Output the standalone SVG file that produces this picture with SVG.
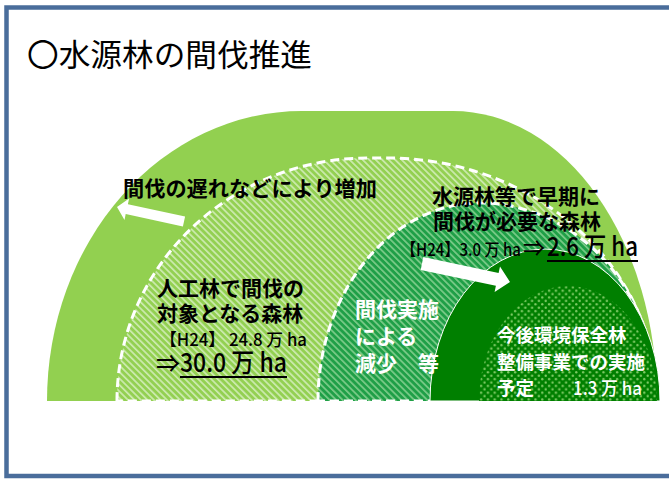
<svg xmlns="http://www.w3.org/2000/svg" width="669" height="480" viewBox="0 0 669 480">
<style>
.t{font-family:"Noto Sans CJK JP","Liberation Sans",sans-serif;font-weight:bold;}
.m{font-weight:500;}
.blk{fill:#000;}
.wht{fill:#fff;}
.dash{stroke:#fff;stroke-width:3;stroke-dasharray:9 5;}
.arrow{fill:#fff;}
.ul{stroke:#000;stroke-width:2;}
</style>
<defs>
<pattern id="hatchLight" patternUnits="userSpaceOnUse" width="4.6" height="4.6" patternTransform="rotate(-45)">
<rect width="4.6" height="4.6" fill="#93d052"/>
<rect x="0" y="0" width="1.7" height="4.6" fill="#cdeab0"/>
</pattern>
<pattern id="hatchMid" patternUnits="userSpaceOnUse" width="4.6" height="4.6" patternTransform="rotate(-45)">
<rect width="4.6" height="4.6" fill="#1f9f47"/>
<rect x="0" y="0" width="1.7" height="4.6" fill="#7ccb89"/>
</pattern>
<pattern id="dots" patternUnits="userSpaceOnUse" width="6.8" height="6.8">
<rect width="6.8" height="6.8" fill="#007f00"/>
<circle cx="1.7" cy="1.7" r="1.2" fill="#7fca66"/>
<circle cx="5.1" cy="5.1" r="1.2" fill="#7fca66"/>
</pattern>
</defs>
<rect x="0" y="0" width="669" height="480" fill="#fff"/>
<rect x="6.5" y="7.5" width="700" height="468.5" fill="none" stroke="#4a6d9b" stroke-width="4.5"/>
<text x="27" y="66" font-size="31" font-family="Noto Sans CJK JP, Liberation Sans, sans-serif" textLength="285" lengthAdjust="spacingAndGlyphs">〇水源林の間伐推進</text>

<g id="outer-forest">
<path d="M47,401 A255,290 0 0 1 302,111 L453,111 A204,290 0 0 1 657,401 Z" fill="#92d050"/>
</g>
<g id="thinning-target">
<path d="M117,401 A251,243 0 0 1 368,158 L387,158 A270,243 0 0 1 657,401 Z" fill="url(#hatchLight)" class="dash"/>
</g>
<g id="early-thinning">
<path d="M318,401 A162,198 0 0 1 480,203 A177,198 0 0 1 657,401 Z" fill="url(#hatchMid)" class="dash"/>
</g>
<g id="dark-forest">
<path d="M430,401 A115,152 0 0 1 660,401 Z" fill="#007f00" stroke="#fff" stroke-width="1"/>
</g>
<g id="planned">
<path d="M479,401 A89,115 0 0 1 657,401 Z" fill="url(#dots)"/>
</g>

<g id="connectors">
<polygon class="arrow" points="185.1,216.6 127.9,204.2 129.1,198.4 117,207 124.5,219.9 125.7,214.0 182.9,226.4"/>
<polygon class="arrow" points="423.3,257.1 498.6,272.9 500.0,266.6 510,282 494.6,292.0 495.9,285.7 420.7,269.9"/>
</g>

<g id="label-increase">
<text class="t blk" x="123" y="195.5" font-size="21" textLength="254" lengthAdjust="spacingAndGlyphs">間伐の遅れなどにより増加</text>
</g>
<g id="label-target">
<text class="t blk" font-size="21"><tspan x="157" y="295.5">人工林で間伐の</tspan><tspan x="157" y="320.5">対象となる森林</tspan></text>
<text class="t m blk" x="160" y="346" font-size="17" textLength="147" lengthAdjust="spacingAndGlyphs">【H24】 24.8 万 ha</text>
<text class="t m blk" font-size="24"><tspan x="156" y="372">⇒</tspan><tspan x="180" y="372" font-size="26" textLength="107" lengthAdjust="spacingAndGlyphs">30.0 万 ha</tspan></text>
<line class="ul" x1="180" y1="377" x2="287" y2="377"/>
</g>
<g id="label-early">
<text class="t blk" font-size="21"><tspan x="432" y="203.5">水源林等で早期に</tspan><tspan x="433" y="228.5">間伐が必要な森林</tspan></text>
<text class="t m blk" font-size="17"><tspan x="401" y="256" textLength="120" lengthAdjust="spacingAndGlyphs">【H24】3.0 万 ha</tspan><tspan x="523" y="256" font-size="22">⇒</tspan><tspan x="547" y="256" font-size="26" textLength="91" lengthAdjust="spacingAndGlyphs">2.6 万 ha</tspan></text>
<line class="ul" x1="547" y1="261" x2="638" y2="261"/>
</g>
<g id="label-reduction">
<text class="t wht" font-size="21"><tspan x="355" y="317">間伐実施</tspan><tspan x="355" y="344">による</tspan><tspan x="355" y="371">減少　等</tspan></text>
</g>
<g id="label-planned">
<text class="t wht" font-size="18.5"><tspan x="497" y="342">今後環境保全林</tspan><tspan x="497" y="368.5">整備事業での実施</tspan><tspan x="497" y="395">予定</tspan><tspan class="m" x="573" y="395" textLength="69" lengthAdjust="spacingAndGlyphs">1.3 万 ha</tspan></text>
</g>
</svg>
